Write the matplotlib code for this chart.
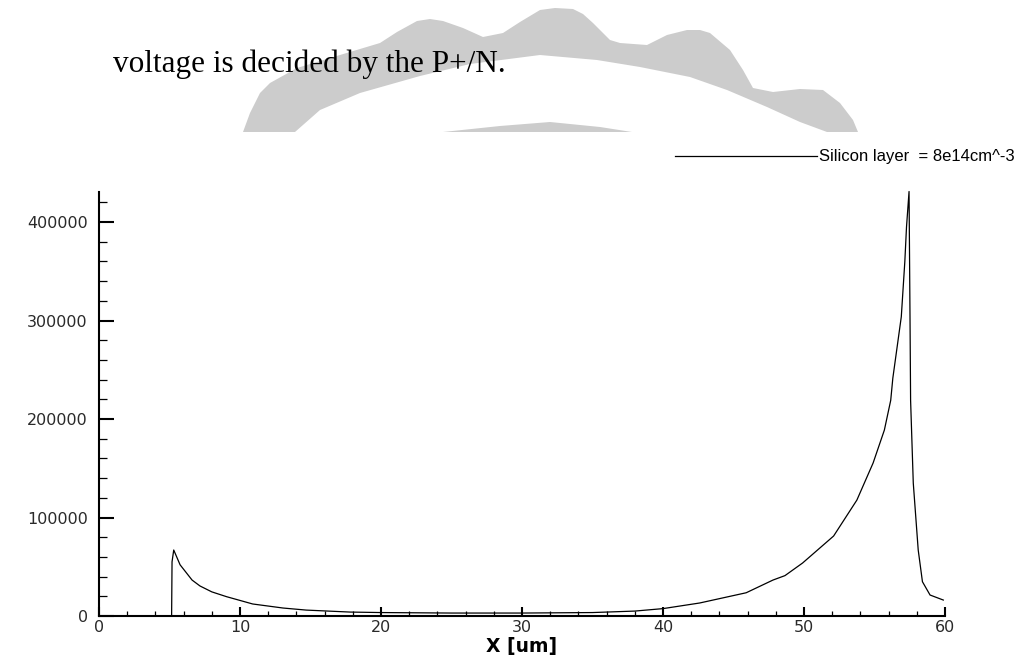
import matplotlib.pyplot as plt
from matplotlib.patches import Polygon
from matplotlib.ticker import MultipleLocator

# Electric field profile
x_um = [5.15, 5.18, 5.3, 5.75, 6.6, 7.16, 8.0, 9.05, 10.9, 13.05, 14.7, 17.8,
        20.0, 25.0, 30.0, 35.0, 38.0, 40.0, 42.6, 45.9, 47.8, 48.65, 49.9,
        52.1, 53.75, 54.9, 55.7, 56.15, 56.3, 56.9, 57.15, 57.27, 57.45,
        57.52, 57.56, 57.75, 58.1, 58.4, 58.94, 59.88]
field = [0, 55000, 67000, 52000, 36500, 30500, 24500, 19600, 12200, 8100,
         6000, 4000, 3500, 3000, 3000, 3500, 5000, 7500, 13200, 23600, 36500,
         41000, 53800, 81200, 117700, 155300, 188800, 219000, 241500, 303800,
         359600, 395000, 431000, 300000, 219000, 135000, 67000, 34800, 21300,
         16200]

legend_label = "Silicon layer  = 8e14cm^-3"
caption = "voltage is decided by the P+/N."
x_label = "X [um]"

# grey watermark outline (page pixels, y downward), clipped at the bottom
mark_outer = [(243, 132), (250, 113), (260, 93), (270, 83), (297, 68), (330, 58),
              (380, 43), (397, 32), (417, 21), (430, 19), (443, 21), (463, 28),
              (483, 37), (503, 33), (520, 22), (540, 10), (555, 8), (573, 9),
              (583, 14), (593, 23), (610, 40), (620, 43), (647, 45), (667, 35),
              (687, 30), (700, 30), (710, 33), (730, 50), (743, 70), (753, 88),
              (773, 92), (800, 89), (823, 90), (840, 103), (853, 120), (858, 132)]
mark_inner = [(827, 132), (800, 122), (767, 107), (727, 90), (690, 77), (640, 67),
              (597, 60), (540, 55), (470, 64), (420, 76), (360, 93), (320, 110),
              (295, 132)]
mark_sliver = [(443, 132), (500, 126), (550, 122), (600, 127), (632, 132)]

W, H = 1029, 659
fig = plt.figure(figsize=(W / 100, H / 100), dpi=100)


def to_fig(pts):
    return [(px / W, 1 - py / H) for px, py in pts]


grey = '#cccccc'
fig.add_artist(Polygon(to_fig(mark_outer + mark_inner), closed=True,
                       facecolor=grey, edgecolor='none', transform=fig.transFigure))
fig.add_artist(Polygon(to_fig(mark_sliver), closed=True,
                       facecolor=grey, edgecolor='none', transform=fig.transFigure))

fig.text(113 / W, 1 - 72 / H, caption, family='Liberation Serif', fontsize=22.5,
         va='baseline', ha='left', color='black')

ax = fig.add_axes([99 / W, 1 - 616 / H, (945 - 99) / W, (616 - 192) / H])
ax.plot(x_um, field, color='black', linewidth=0.9, label=legend_label, clip_on=False)

ax.set_xlim(0, 60)
ax.set_ylim(0, 430500)
for side in ('top', 'right'):
    ax.spines[side].set_visible(False)
for side in ('left', 'bottom'):
    ax.spines[side].set_linewidth(1.5)

ax.xaxis.set_major_locator(MultipleLocator(10))
ax.xaxis.set_minor_locator(MultipleLocator(2))
ax.yaxis.set_major_locator(MultipleLocator(100000))
ax.yaxis.set_minor_locator(MultipleLocator(20000))

ax.tick_params(axis='x', which='major', direction='in', length=6.5, width=1.5, pad=3)
ax.tick_params(axis='x', which='minor', direction='in', length=3.5, width=0.9)
ax.tick_params(axis='y', which='major', direction='in', length=11, width=1.5, pad=8)
ax.tick_params(axis='y', which='minor', direction='in', length=6, width=0.9)
for lab in ax.get_xticklabels() + ax.get_yticklabels():
    lab.set_family('DejaVu Sans')
    lab.set_fontsize(11.5)
    lab.set_color('#2a2a2a')

ax.set_xlabel(x_label, fontsize=13.5, fontweight='bold', family='DejaVu Sans')
ax.xaxis.set_label_coords(0.5, -0.049)

fig.legend(loc='center right', bbox_to_anchor=(1015 / W, 1 - 157 / H),
           frameon=False, borderpad=0, borderaxespad=0, handlelength=8.5,
           handletextpad=0.15, prop={'family': 'Liberation Sans', 'size': 12})

fig.savefig('out.png', dpi=100)
